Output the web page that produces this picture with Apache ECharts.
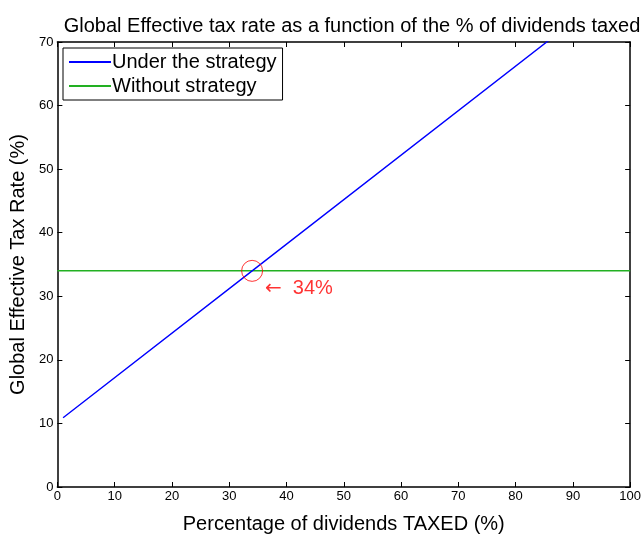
<!DOCTYPE html>
<html>
<head>
<meta charset="utf-8">
<script src="https://cdn.jsdelivr.net/npm/echarts@6/dist/echarts.min.js"></script>
<style>
  html, body { margin: 0; padding: 0; background: #fff; }
  #chart { width: 644px; height: 539px; }
</style>
</head>
<body>
<div id="chart"></div>
<script>
// Effective tax rate (%) against share of dividends taxed (%)
const underStrategy = [[1, 10.9], [34, 34], [100, 80.2]];
const withoutStrategy = [[0, 34], [100, 34]];
const breakEven = [34, 34];
const breakEvenText = '34%';

const xTicks = { min: 0, max: 100, interval: 10 };
const yTicks = { min: 0, max: 70, interval: 10 };

const FONT = 'Liberation Sans, Arial, Helvetica, sans-serif';

const chart = echarts.init(document.getElementById('chart'), null, { renderer: 'canvas' });

const tickStyle = { show: true, inside: true, length: 5, lineStyle: { color: '#000', width: 1 } };
const axisLine = { show: true, onZero: false, lineStyle: { color: '#000', width: 1.5 } };

chart.setOption({
  animation: false,
  backgroundColor: '#fff',
  title: {
    text: 'Global Effective tax rate as a function of the % of dividends taxed',
    left: 347, top: 11, textAlign: 'center',
    textStyle: { fontFamily: FONT, fontSize: 20, fontWeight: 'normal', color: '#000' }
  },
  grid: { left: 56, right: 8, top: 42, bottom: 42, containLabel: false },
  legend: {
    left: 63, top: 48, orient: 'vertical',
    backgroundColor: '#fff', borderColor: '#000', borderWidth: 1,
    padding: [4, 6, 4, 6], itemGap: 4,
    itemWidth: 42, itemHeight: 2, icon: 'rect',
    textStyle: { fontFamily: FONT, fontSize: 20, color: '#000', padding: [0, 0, 0, -4] },
    data: ['Under the strategy', 'Without strategy']
  },
  xAxis: [
    {
      type: 'value', min: xTicks.min, max: xTicks.max, interval: xTicks.interval,
      name: 'Percentage of dividends TAXED (%)', nameLocation: 'middle', nameGap: 27,
      nameTextStyle: { fontFamily: FONT, fontSize: 20, color: '#000' },
      axisLine: axisLine, axisTick: tickStyle,
      axisLabel: { fontFamily: FONT, fontSize: 13, color: '#000', margin: 3 },
      splitLine: { show: false }
    },
    {
      type: 'value', position: 'top', min: xTicks.min, max: xTicks.max, interval: xTicks.interval,
      axisLine: axisLine, axisTick: tickStyle, axisLabel: { show: false }, splitLine: { show: false }
    }
  ],
  yAxis: [
    {
      type: 'value', min: yTicks.min, max: yTicks.max, interval: yTicks.interval,
      name: 'Global Effective Tax Rate (%)', nameLocation: 'middle', nameGap: 27,
      nameTextStyle: { fontFamily: FONT, fontSize: 20, color: '#000' },
      axisLine: axisLine, axisTick: tickStyle,
      axisLabel: { fontFamily: FONT, fontSize: 13, color: '#000', margin: 4 },
      splitLine: { show: false }
    },
    {
      type: 'value', position: 'right', min: yTicks.min, max: yTicks.max, interval: yTicks.interval,
      axisLine: axisLine, axisTick: tickStyle, axisLabel: { show: false }, splitLine: { show: false }
    }
  ],
  series: [
    {
      name: 'Under the strategy', type: 'line', data: underStrategy,
      showSymbol: false, symbol: 'none', clip: true,
      lineStyle: { color: '#0000ff', width: 1.4 }, itemStyle: { color: '#0000ff' }, z: 3
    },
    {
      name: 'Without strategy', type: 'line', data: withoutStrategy,
      showSymbol: false, symbol: 'none', clip: true,
      lineStyle: { color: '#22b022', width: 1.5 }, itemStyle: { color: '#22b022' }, z: 2
    },
    {
      name: 'break-even', type: 'scatter', data: [breakEven],
      symbol: 'circle', symbolSize: 21,
      itemStyle: { color: 'rgba(0,0,0,0)', borderColor: '#ff0000', borderWidth: 1 },
      label: {
        show: true, position: 'right', distance: 2, offset: [0, 18],
        formatter: '{a|\u2190}{b|' + breakEvenText + '}',
        rich: {
          a: { fontFamily: 'DejaVu Sans', fontSize: 20, color: '#ff0000' },
          b: { fontFamily: FONT, fontSize: 20, color: '#ff0000', padding: [0, 0, 0, 11] }
        }
      },
      emphasis: { disabled: true }, z: 4
    }
  ]
});
</script>
</body>
</html>
